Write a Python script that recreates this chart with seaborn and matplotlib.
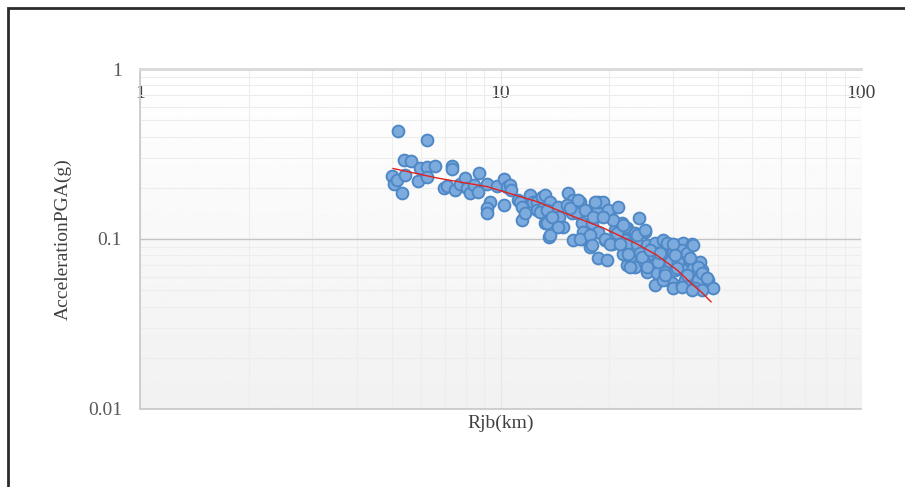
import numpy as np
import pandas as pd
import matplotlib
matplotlib.use('Agg')
import matplotlib.pyplot as plt
import matplotlib.ticker as mticker
from matplotlib.patches import Rectangle
import seaborn as sns

# distance (km) and PGA (g)
rjb_near = [5.0, 5.05, 5.15, 5.2, 5.33, 5.43, 5.4, 5.65, 5.9, 5.98, 6.25, 6.25, 6.25,
            6.58, 6.97, 7.1, 7.33, 7.33, 7.48, 7.72, 7.97, 8.07, 8.23, 8.45, 8.7, 8.66]
pga_near = [0.235, 0.211, 0.222, 0.43, 0.186, 0.238, 0.292, 0.288, 0.219, 0.262, 0.382, 0.265, 0.232,
            0.268, 0.200, 0.205, 0.268, 0.258, 0.194, 0.211, 0.228, 0.200, 0.186, 0.208, 0.244, 0.189]

rjb_mid = [9.2, 9.35, 9.2, 9.2, 9.8, 10.2, 10.2, 10.4, 10.6, 10.7, 11.2, 11.3, 11.5, 11.45,
           11.7, 12.1, 12.3, 12.6, 12.6, 13.0, 13.1, 12.9, 13.3, 13.3, 13.6, 13.6, 13.7, 13.5]
pga_mid = [0.211, 0.166, 0.152, 0.143, 0.205, 0.225, 0.158, 0.203, 0.208, 0.194, 0.170, 0.166, 0.154, 0.129,
           0.142, 0.181, 0.164, 0.164, 0.148, 0.176, 0.152, 0.144, 0.181, 0.124, 0.103, 0.142, 0.166, 0.148]

rjb_far = [14.4, 14.5, 14.0, 13.5, 15.4, 15.9, 15.3, 15.8, 16.3, 16.6, 16.8, 15.9, 16.8, 17.7, 16.9, 17.9,
           17.9, 18.5, 18.6, 19.3, 18.6, 19.5, 20.1, 19.9, 21.2, 20.8, 20.4, 21.7, 21.5, 22.4, 22.1, 18.6,
           19.7, 21.9, 22.4]
pga_far = [0.154, 0.135, 0.116, 0.124, 0.186, 0.170, 0.158, 0.142, 0.142, 0.166, 0.124, 0.0987, 0.100, 0.0897,
           0.110, 0.148, 0.124, 0.144, 0.164, 0.166, 0.110, 0.0987, 0.135, 0.148, 0.154, 0.113, 0.0935, 0.125,
           0.106, 0.116, 0.0987, 0.0773, 0.0752, 0.0815, 0.0703]

rjb_tail = [24.2, 22.1, 23.6, 25.2, 22.4, 23.9, 25.5, 26.8, 28.2, 29.5, 30.9, 32.1, 34.0, 22.9, 24.4, 26.0,
            27.1, 28.6, 30.1, 31.9, 33.0, 23.6, 25.2, 26.5, 27.7, 29.5, 31.1, 33.6, 35.8, 25.5, 27.1, 28.6,
            30.5, 32.1, 34.2, 36.3, 26.8, 29.9, 30.1, 31.9, 34.0, 35.2, 34.6, 37.6, 38.8, 36.3, 32.5, 28.2]
pga_tail = [0.132, 0.118, 0.109, 0.110, 0.0935, 0.0935, 0.0922, 0.0952, 0.0987, 0.0935, 0.0922, 0.0952, 0.0935,
            0.0784, 0.0827, 0.0805, 0.0827, 0.0805, 0.0827, 0.0862, 0.0827, 0.0684, 0.0722, 0.0703, 0.0722,
            0.0732, 0.0732, 0.0752, 0.0732, 0.0640, 0.0630, 0.0640, 0.0657, 0.0657, 0.0675, 0.0657, 0.0536,
            0.0551, 0.0515, 0.0536, 0.0551, 0.0574, 0.0515, 0.0574, 0.0515, 0.0501, 0.0574, 0.0574]

rjb_extra = [13.7, 14.9, 15.6, 17.2, 18.0, 18.3, 20.5, 21.1, 22.6, 24.7, 25.5, 27.3, 28.9, 30.9, 31.9, 33.0,
             33.6, 34.2, 35.4, 36.3, 37.3, 13.9, 14.4, 16.4, 16.6, 17.7, 17.9, 19.3, 19.5, 20.1, 21.5, 21.9,
             22.9, 23.9, 25.2, 26.0, 27.7, 28.6, 30.1, 30.5, 34.0]
pga_extra = [0.106, 0.118, 0.152, 0.148, 0.135, 0.164, 0.129, 0.109, 0.0815, 0.0784, 0.0684, 0.0732, 0.0952,
             0.0675, 0.0522, 0.0614, 0.0773, 0.0922, 0.0684, 0.0630, 0.0591, 0.135, 0.118, 0.170, 0.100,
             0.106, 0.0922, 0.135, 0.100, 0.0935, 0.0935, 0.121, 0.0684, 0.106, 0.113, 0.0862, 0.0827,
             0.0614, 0.0935, 0.0805, 0.0501]

# red trend curve, read at a few points
fit_rjb = [5.03, 6.7, 9.2, 12.6, 15.6, 19.3, 23.9, 27.1, 30.9, 34.2, 36.3, 38.4]
fit_pga = [0.26, 0.228, 0.203, 0.166, 0.138, 0.116, 0.0935, 0.0805, 0.0657, 0.0536, 0.0481, 0.0426]

x_ticks = [1, 10, 100]
y_ticks = [0.01, 0.1, 1]

df = pd.DataFrame({
    'rjb': rjb_near + rjb_mid + rjb_far + rjb_tail + rjb_extra,
    'pga': pga_near + pga_mid + pga_far + pga_tail + pga_extra,
})
fit = pd.DataFrame({'rjb': fit_rjb, 'pga': fit_pga})

sns.set_style('white')
plt.rcParams['font.family'] = ['Liberation Serif', 'DejaVu Serif']

fig = plt.figure(figsize=(9.05, 4.87), dpi=100)
ax = fig.add_axes([0.1547, 0.1602, 0.7967, 0.6981])

# soft vertical gradient behind the plot
grad = np.linspace(0.945, 1.0, 256).reshape(-1, 1)
ax.imshow(grad, cmap='gray', vmin=0, vmax=1, aspect='auto', origin='lower',
          extent=[0, 1, 0, 1], transform=ax.transAxes, zorder=0)

sns.scatterplot(data=df, x='rjb', y='pga', ax=ax, s=72, color='#7eabdd',
                edgecolor='#4f88c6', linewidth=1.4, zorder=3, legend=False)
sns.lineplot(data=fit, x='rjb', y='pga', ax=ax, color='#e3211c', linewidth=1.0,
             sort=False, estimator=None, zorder=4)

ax.set_xscale('log')
ax.set_yscale('log')
ax.set_xlim(1, 100)
ax.set_ylim(0.01, 1)

ax.set_xticks(x_ticks)
ax.set_xticklabels([str(v) for v in x_ticks])
ax.set_yticks(y_ticks)
ax.set_yticklabels(['0.01', '0.1', '1'])
ax.xaxis.set_minor_locator(mticker.LogLocator(base=10, subs=np.arange(2, 10)))
ax.yaxis.set_minor_locator(mticker.LogLocator(base=10, subs=np.arange(2, 10)))
ax.xaxis.set_minor_formatter(mticker.NullFormatter())
ax.yaxis.set_minor_formatter(mticker.NullFormatter())

ax.tick_params(axis='x', which='both', length=0, top=False, bottom=False,
               labeltop=True, labelbottom=False, pad=-24, labelsize=14, labelcolor='#404040')
ax.tick_params(axis='y', which='both', length=0, pad=13, labelsize=14, labelcolor='#595959')

ax.grid(which='minor', color='#ededed', linewidth=0.8, zorder=1)
ax.grid(which='major', axis='x', color='#e6e6e6', linewidth=0.8, zorder=1)
ax.grid(which='major', axis='y', color='#c4c4c4', linewidth=1.0, zorder=1)
ax.set_axisbelow(True)

for side in ['left', 'bottom', 'top']:
    ax.spines[side].set_visible(True)
    ax.spines[side].set_color('#c8c8c8')
    ax.spines[side].set_linewidth(1.2)
ax.spines['top'].set_color('#d9d9d9')
ax.spines['top'].set_linewidth(2)
ax.spines['right'].set_visible(False)

ax.set_xlabel('Rjb(km)', fontsize=14, color='#404040')
ax.set_ylabel('AccelerationPGA(g)', fontsize=14, color='#404040')
ax.xaxis.set_label_coords(0.5, -0.018)
ax.yaxis.set_label_coords(-0.095, 0.5)

# dark frame around the chart area
fig.add_artist(Rectangle((8 / 905, -0.2), 1.2, 1.2 - 8 / 487, transform=fig.transFigure,
                         fill=False, edgecolor='#2b2b2b', linewidth=2))

fig.savefig('out.png', dpi=100)
